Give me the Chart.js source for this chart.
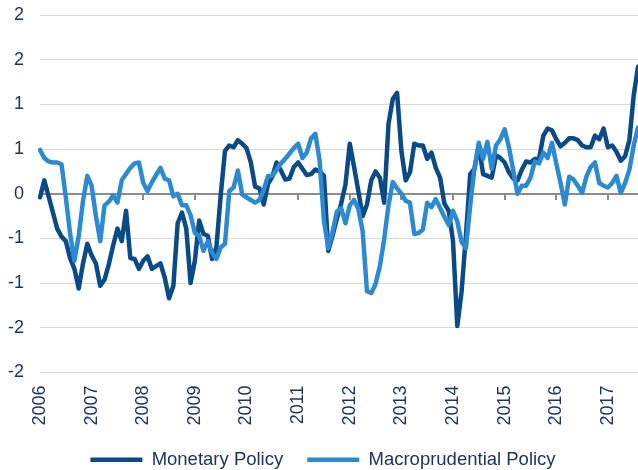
<!DOCTYPE html>
<html>
<head>
<meta charset="utf-8">
<script src="https://cdn.jsdelivr.net/npm/chart.js@4"></script>
<style>
  html, body { margin: 0; padding: 0; background: #fff; }
  #wrap { width: 638px; height: 470px; }
</style>
</head>
<body>
<div id="wrap"><canvas id="chart"></canvas></div>
<script>
// monthly, Jan 2006 .. Aug 2017
const years = ['2006', '2007', '2008', '2009', '2010', '2011', '2012', '2013', '2014', '2015', '2016', '2017'];
const monthsInLastYear = 8;

const monetary = [
  -0.04, 0.15, -0.03, -0.21, -0.39, -0.48, -0.53, -0.72, -0.84, -1.06, -0.78, -0.56,
  -0.69, -0.78, -1.03, -0.96, -0.79, -0.58, -0.39, -0.53, -0.19, -0.72, -0.73, -0.84,
  -0.75, -0.70, -0.84, -0.81, -0.78, -0.94, -1.17, -1.03, -0.33, -0.21, -0.39, -1.00,
  -0.75, -0.30, -0.45, -0.47, -0.73, -0.60, -0.02, 0.48, 0.54, 0.52, 0.60, 0.56,
  0.51, 0.35, 0.08, 0.06, -0.12, 0.11, 0.19, 0.35, 0.26, 0.16, 0.17, 0.30,
  0.35, 0.28, 0.21, 0.22, 0.27, 0.25, 0.20, -0.64, -0.47, -0.28, -0.11, 0.10,
  0.56, 0.30, 0.03, -0.25, -0.12, 0.15, 0.25, 0.18, -0.10, 0.78, 1.06, 1.13,
  0.48, 0.15, 0.24, 0.56, 0.54, 0.54, 0.39, 0.46, 0.29, 0.18, -0.11, -0.19,
  -0.53, -1.48, -1.09, -0.47, 0.22, 0.28, 0.54, 0.22, 0.20, 0.18, 0.43, 0.40,
  0.35, 0.24, 0.17, 0.15, 0.27, 0.36, 0.35, 0.39, 0.39, 0.65, 0.73, 0.71,
  0.61, 0.53, 0.57, 0.62, 0.62, 0.60, 0.54, 0.52, 0.52, 0.65, 0.61, 0.73,
  0.52, 0.54, 0.47, 0.37, 0.42, 0.60, 1.10, 1.42
];

const macroprudential = [
  0.49, 0.40, 0.36, 0.35, 0.35, 0.33, -0.04, -0.45, -0.75, -0.47, -0.08, 0.20,
  0.09, -0.25, -0.53, -0.13, -0.09, -0.02, -0.10, 0.15, 0.22, 0.29, 0.34, 0.35,
  0.12, 0.03, 0.13, 0.21, 0.29, 0.17, 0.15, -0.03, 0.00, -0.13, -0.13, -0.24,
  -0.44, -0.47, -0.64, -0.53, -0.66, -0.73, -0.60, -0.56, 0.03, 0.07, 0.26, -0.01,
  -0.04, -0.07, -0.10, -0.07, 0.04, 0.20, 0.20, 0.27, 0.34, 0.39, 0.45, 0.51,
  0.56, 0.40, 0.46, 0.62, 0.67, 0.37, -0.30, -0.61, -0.43, -0.20, -0.16, -0.33,
  -0.13, -0.07, -0.17, -0.42, -1.09, -1.11, -1.01, -0.81, -0.51, -0.13, 0.13, 0.06,
  0.00, -0.08, -0.10, -0.45, -0.44, -0.40, -0.10, -0.15, -0.06, -0.16, -0.26, -0.35,
  -0.19, -0.31, -0.54, -0.61, -0.13, 0.29, 0.57, 0.39, 0.58, 0.28, 0.54, 0.61,
  0.72, 0.52, 0.26, 0.00, 0.09, 0.09, 0.18, 0.36, 0.34, 0.46, 0.40, 0.57,
  0.34, 0.12, -0.12, 0.19, 0.16, 0.09, 0.01, 0.19, 0.30, 0.35, 0.12, 0.09,
  0.07, 0.12, 0.20, 0.01, 0.12, 0.27, 0.54, 0.74
];

const textColor = '#1b3560';
const darkBlue = '#0a4a86';
const lightBlue = '#2b8ad0';
const fontFamily = '"Liberation Sans", Arial, sans-serif';

// month labels like 2006-01
const months = [];
years.forEach((y, i) => {
  const n = i === years.length - 1 ? monthsInLastYear : 12;
  for (let m = 1; m <= n; m++) months.push(y + '-' + String(m).padStart(2, '0'));
});

new Chart(document.getElementById('chart'), {
  type: 'line',
  data: {
    labels: months,
    datasets: [
      {
        label: 'Monetary Policy',
        data: monetary,
        borderColor: darkBlue,
        backgroundColor: darkBlue,
        borderWidth: 4.5,
        order: 2
      },
      {
        label: 'Macroprudential Policy',
        data: macroprudential,
        borderColor: lightBlue,
        backgroundColor: lightBlue,
        borderWidth: 4.5,
        order: 1
      }
    ]
  },
  options: {
    responsive: true,
    maintainAspectRatio: false,
    animation: false,
    layout: { padding: { left: 8, right: 0, top: 15, bottom: -9 } },
    elements: {
      point: { radius: 0 },
      line: { tension: 0, borderCapStyle: 'round', borderJoinStyle: 'round' }
    },
    plugins: {
      tooltip: { enabled: false },
      legend: {
        position: 'bottom',
        labels: {
          usePointStyle: true,
          pointStyle: 'line',
          pointStyleWidth: 52,
          padding: 24,
          color: textColor,
          font: { family: fontFamily, size: 18.5 },
          sort: (a, b) => a.datasetIndex - b.datasetIndex
        }
      }
    },
    scales: {
      x: {
        grid: { display: false },
        border: { display: false },
        ticks: {
          autoSkip: false,
          minRotation: 90,
          maxRotation: 90,
          padding: 5,
          color: textColor,
          font: { family: fontFamily, size: 18 },
          callback: (v, i) => (i % 12 === 0 ? years[i / 12] : null)
        },
        afterFit: s => { s.height = 54; s.paddingLeft = 0; s.paddingRight = 0; }
      },
      // zero line with year tick marks
      x2: {
        type: 'category',
        labels: months,
        position: { y: 0 },
        ticks: { display: false, autoSkip: false },
        grid: {
          drawOnChartArea: false,
          drawTicks: true,
          tickLength: 5,
          lineWidth: 2,
          color: ctx => (ctx.index % 12 === 0 && ctx.index > 0 ? '#8c8c8c' : 'rgba(0,0,0,0)')
        },
        border: { color: '#8c8c8c', width: 2 }
      },
      y: {
        min: -2,
        max: 2,
        border: { display: false },
        grid: { color: '#d9d9d9', lineWidth: 1, drawTicks: false },
        ticks: {
          stepSize: 0.5,
          padding: 16,
          color: textColor,
          font: { family: fontFamily, size: 18 },
          callback: v => Math.sign(v) * Math.round(Math.abs(v))
        },
        afterFit: s => { s.width = 32; s.paddingTop = 11; s.paddingBottom = 11; }
      }
    }
  }
});
</script>
</body>
</html>
